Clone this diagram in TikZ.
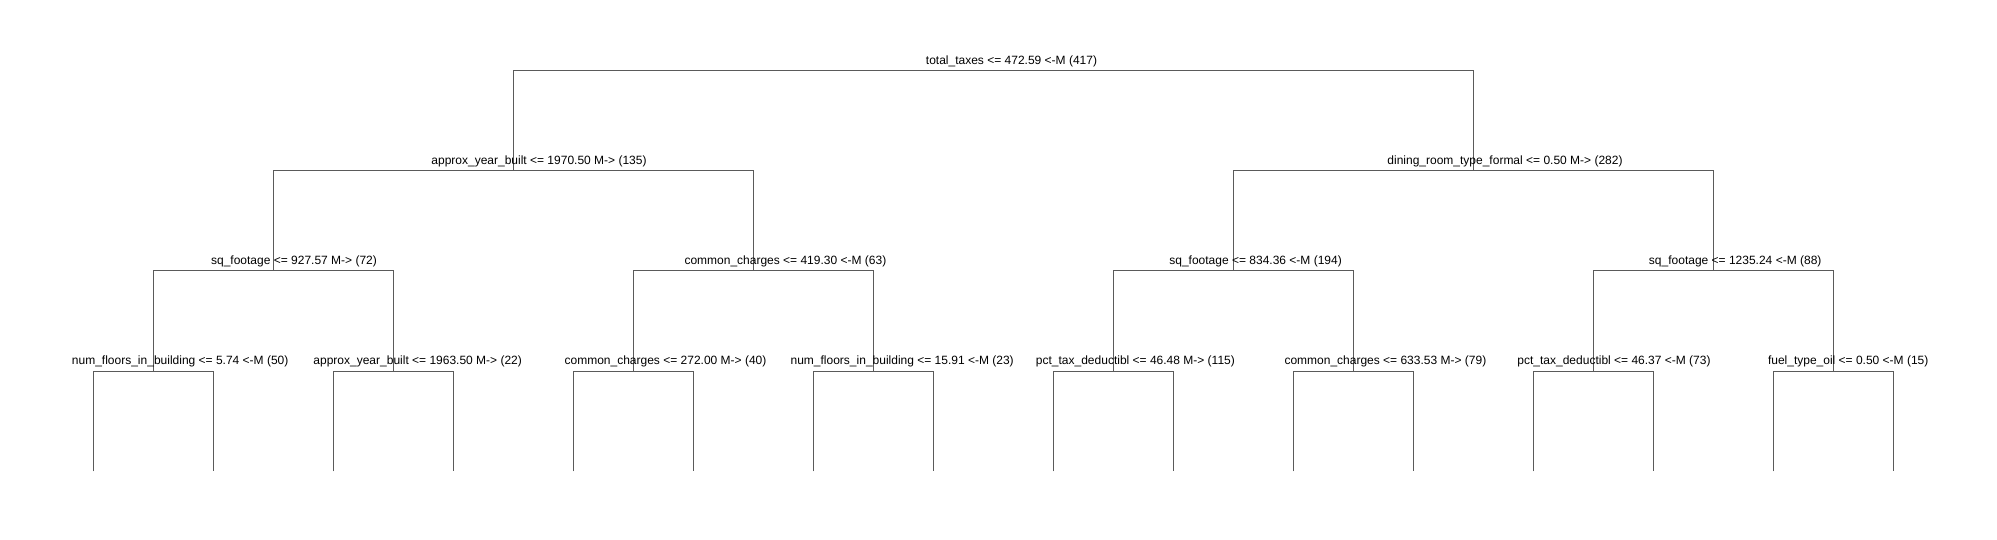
\documentclass[tikz,border=0pt]{standalone}
\usepackage{fontspec}
\newfontfamily\treefont{Liberation Sans}
\definecolor{edgegray}{RGB}{90,90,90}
\tikzset{
  edge/.style={draw=edgegray, line width=0.5pt},
  split/.style={font=\treefont\fontsize{6}{7}\selectfont, anchor=base, inner sep=0pt},
}

\begin{document}
\begin{tikzpicture}[x=0.5pt,y=-0.5pt]
\useasboundingbox (0,0) rectangle (1997,540);
% split points
\coordinate (n1) at (993.75,70.5);
\coordinate (n2) at (513.75,170.7);
\coordinate (n3) at (1473.75,170.7);
\coordinate (n4) at (273.75,270.9);
\coordinate (n5) at (753.75,270.9);
\coordinate (n6) at (1233.75,270.9);
\coordinate (n7) at (1713.75,270.9);
\foreach \i in {0,...,7}{
  \pgfmathtruncatemacro\k{\i+8}
  \coordinate (n\k) at ({153.75+240*\i},371.1);
}
% leaves
\foreach \i in {1,...,16}
  \coordinate (leaf\i) at ({93.75+120*(\i-1)},471.3);
% edges
\foreach \p in {1,...,7}{
  \pgfmathtruncatemacro\l{2*\p}
  \pgfmathtruncatemacro\r{2*\p+1}
  \draw[edge] (n\l) |- (n\p) -| (n\r);
}
\foreach \p in {8,...,15}{
  \pgfmathtruncatemacro\l{2*\p-15}
  \pgfmathtruncatemacro\r{2*\p-14}
  \draw[edge] (leaf\l) |- (n\p) -| (leaf\r);
}
% split labels
\node[split] (t1) at (1011.5,64.2) {total\_taxes <= 472.59 <-M (417)};
\node[split] (t2) at (539,164.4) {approx\_year\_built <= 1970.50 M-> (135)};
\node[split] (t3) at (1505,164.4) {dining\_room\_type\_formal <= 0.50 M-> (282)};
\node[split] (t4) at (294,264.6) {sq\_footage <= 927.57 M-> (72)};
\node[split] (t5) at (785.4,264.6) {common\_charges <= 419.30 <-M (63)};
\node[split] (t6) at (1255.6,264.6) {sq\_footage <= 834.36 <-M (194)};
\node[split] (t7) at (1735.2,264.6) {sq\_footage <= 1235.24 <-M (88)};
\node[split] (t8) at (180.2,364.8) {num\_floors\_in\_building <= 5.74 <-M (50)};
\node[split] (t9) at (417.7,364.8) {approx\_year\_built <= 1963.50 M-> (22)};
\node[split] (t10) at (665.5,364.8) {common\_charges <= 272.00 M-> (40)};
\node[split] (t11) at (902.2,364.8) {num\_floors\_in\_building <= 15.91 <-M (23)};
\node[split] (t12) at (1135.4,364.8) {pct\_tax\_deductibl <= 46.48 M-> (115)};
\node[split] (t13) at (1385.4,364.8) {common\_charges <= 633.53 M-> (79)};
\node[split] (t14) at (1614,364.8) {pct\_tax\_deductibl <= 46.37 <-M (73)};
\node[split] (t15) at (1848.2,364.8) {fuel\_type\_oil <= 0.50 <-M (15)};
\end{tikzpicture}
\end{document}
